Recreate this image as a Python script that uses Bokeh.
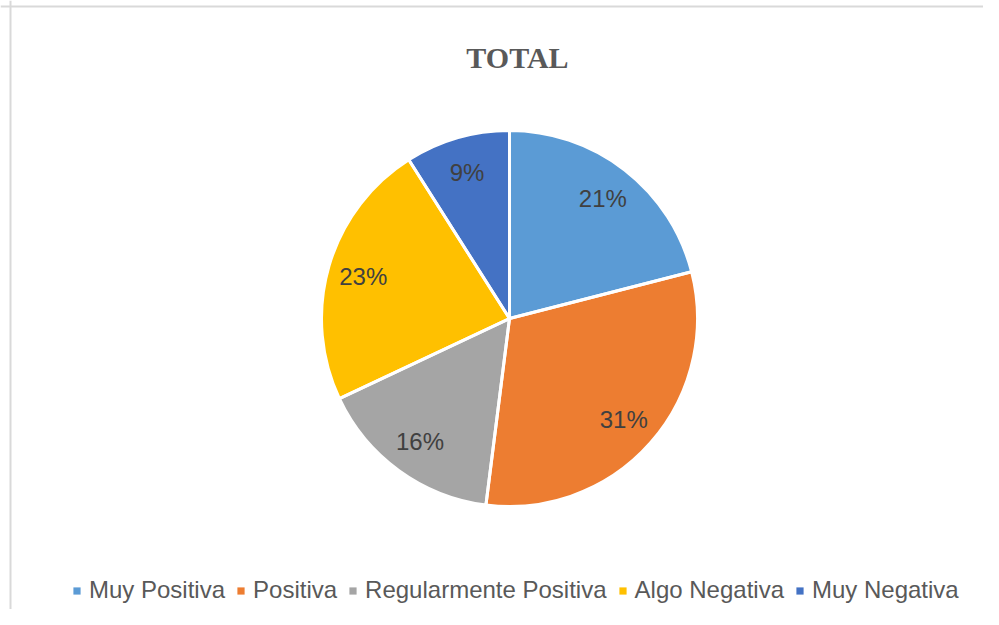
import numpy as np
from bokeh.plotting import figure
from bokeh.models import Range1d, Legend, LegendItem, Label, Span, ColumnDataSource
from bokeh.embed import file_html
from bokeh.resources import INLINE
from bokeh.core.properties import value

# ---- data ----
categories = ["Muy Positiva", "Positiva", "Regularmente Positiva", "Algo Negativa", "Muy Negativa"]
percent = [21, 31, 16, 23, 9]
colors = ["#5B9BD5", "#ED7D31", "#A5A5A5", "#FFC000", "#4472C4"]
title_text = "TOTAL"

# ---- layout (1 data unit = 1 px) ----
W, H = 983, 609
cx, cy, R = 509, H - 318, 188
label_r = 0.81 * R

p = figure(width=W, height=H, x_range=Range1d(0, W), y_range=Range1d(0, H),
           output_backend="svg", toolbar_location=None, min_border=0)
p.axis.visible = False
p.grid.visible = False
p.outline_line_color = None
p.background_fill_color = "white"

# chart border (top and left visible in reference)
p.add_layout(Span(location=10, dimension="height", line_color="#D9D9D9", line_width=2))
p.add_layout(Span(location=H - 6, dimension="width", line_color="#D9D9D9", line_width=2))

vals = np.array(percent, dtype=float)
frac = vals / vals.sum()
cum_end = np.cumsum(frac)
cum_start = cum_end - frac
start = np.pi / 2 - 2 * np.pi * cum_start
end = np.pi / 2 - 2 * np.pi * cum_end
mid = np.pi / 2 - 2 * np.pi * (cum_start + frac / 2)

src = ColumnDataSource(dict(
    cat=categories, pct=percent, color=colors,
    start=start, end=end,
    x=[cx] * len(percent), y=[cy] * len(percent),
    lx=cx + label_r * np.cos(mid), ly=cy + label_r * np.sin(mid),
    lab=[f"{v}%" for v in percent],
))

# filled slices (also used for legend swatches)
wr = p.wedge(x="x", y="y", radius=R, start_angle="start", end_angle="end",
             direction="clock", fill_color="color", line_color=None, source=src)
# white separators / outline
p.wedge(x="x", y="y", radius=R, start_angle="start", end_angle="end",
        direction="clock", fill_color=None, line_color="white", line_width=3,
        source=src)

p.text(x="lx", y="ly", text="lab", source=src, text_align="center",
       text_baseline="middle", text_font=value("Liberation Sans"),
       text_font_size="24px", text_color="#404040")

# title
p.add_layout(Label(x=517, y=H - 57, x_units="screen", y_units="screen", text=title_text,
                   text_font="Liberation Serif", text_font_style="bold",
                   text_font_size="30px", text_color="#595959",
                   text_align="center", text_baseline="middle"))

# legend
items = [LegendItem(label=c, renderers=[wr], index=i) for i, c in enumerate(categories)]
legend = Legend(items=items, orientation="horizontal", location=(72, 5),
                glyph_width=9, glyph_height=9, label_standoff=8, spacing=11,
                padding=0, margin=0, border_line_color=None, background_fill_alpha=0,
                label_text_font="Liberation Sans", label_text_font_size="24px",
                label_text_color="#595959")
p.add_layout(legend)

open("out.html", "w").write(file_html(p, INLINE))
